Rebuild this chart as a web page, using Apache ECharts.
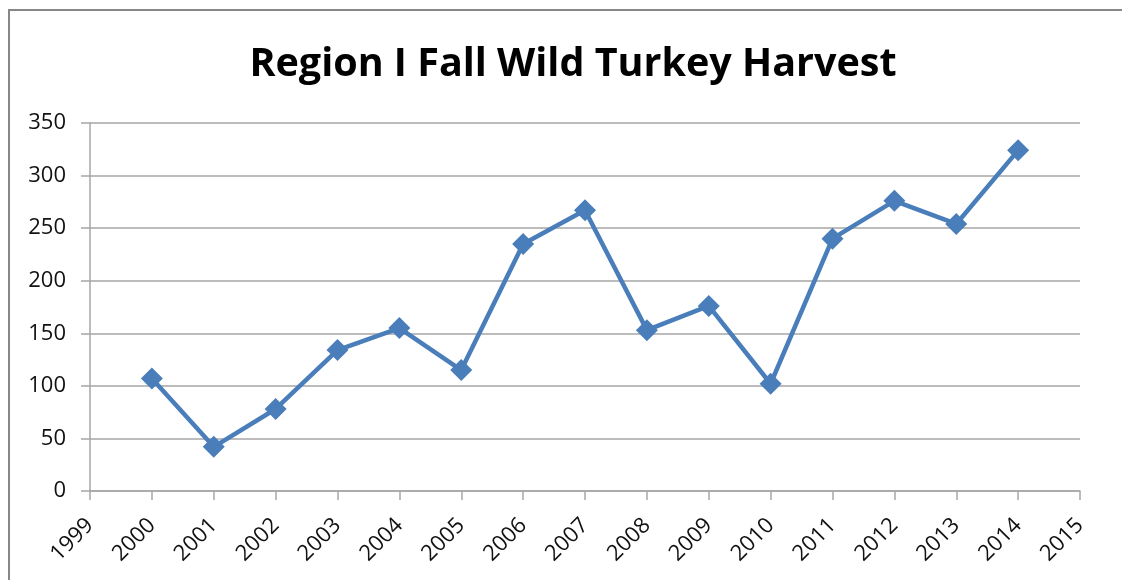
<!DOCTYPE html>
<html>
<head>
<meta charset="utf-8">
<script src="https://cdn.jsdelivr.net/npm/echarts@6/dist/echarts.min.js"></script>
<style>
html,body{margin:0;padding:0;background:#fff;}
#chart{width:1122px;height:580px;}
</style>
</head>
<body>
<div id="chart"></div>
<script>
// Data
const titleText = "Region I Fall Wild Turkey Harvest";
const years = [2000, 2001, 2002, 2003, 2004, 2005, 2006, 2007, 2008, 2009, 2010, 2011, 2012, 2013, 2014];
const harvest = [107, 42, 78, 134, 155, 115, 235, 267, 153, 176, 102, 240, 276, 254, 324];
const xMin = 1999, xMax = 2015, xStep = 1;
const yMin = 0, yMax = 350, yStep = 50;

const chart = echarts.init(document.getElementById('chart'), null, {renderer: 'canvas'});
const points = years.map((y, i) => [y, harvest[i]]);
const labelFont = {fontFamily: 'Open Sans', fontSize: 22, color: '#111'};

chart.setOption({
  animation: false,
  backgroundColor: '#ffffff',
  title: {
    text: titleText,
    left: 568,
    textAlign: 'center',
    top: 40,
    textStyle: {fontFamily: 'Open Sans', fontWeight: 'bold', fontSize: 39.5, color: '#000'}
  },
  grid: {left: 90, right: 42, top: 123, bottom: 89, containLabel: false},
  xAxis: {
    type: 'value', min: xMin, max: xMax, interval: xStep,
    axisLine: {show: true, lineStyle: {color: '#a6a6a6', width: 1.5}},
    axisTick: {show: true, inside: false, length: 9, lineStyle: {color: '#a6a6a6', width: 1.5}},
    splitLine: {show: false},
    axisLabel: Object.assign({rotate: 45, margin: 31, formatter: v => String(v)}, labelFont)
  },
  yAxis: {
    type: 'value', min: yMin, max: yMax, interval: yStep,
    axisLine: {show: true, lineStyle: {color: '#a6a6a6', width: 1.5}},
    axisTick: {show: true, inside: false, length: 9, lineStyle: {color: '#a6a6a6', width: 1.5}},
    splitLine: {show: true, lineStyle: {color: '#a6a6a6', width: 1.5}},
    axisLabel: Object.assign({margin: 24}, labelFont)
  },
  series: [{
    type: 'line',
    data: points,
    symbol: 'diamond',
    symbolSize: 22,
    lineStyle: {color: '#4a7ebb', width: 4.5},
    itemStyle: {color: '#4a7ebb'},
    z: 3
  }],
  graphic: [{
    type: 'polyline',
    shape: {points: [[9, 580], [9, 10], [1122, 10]]},
    style: {stroke: '#878787', lineWidth: 2, fill: null},
    silent: true
  }]
});
</script>
</body>
</html>
